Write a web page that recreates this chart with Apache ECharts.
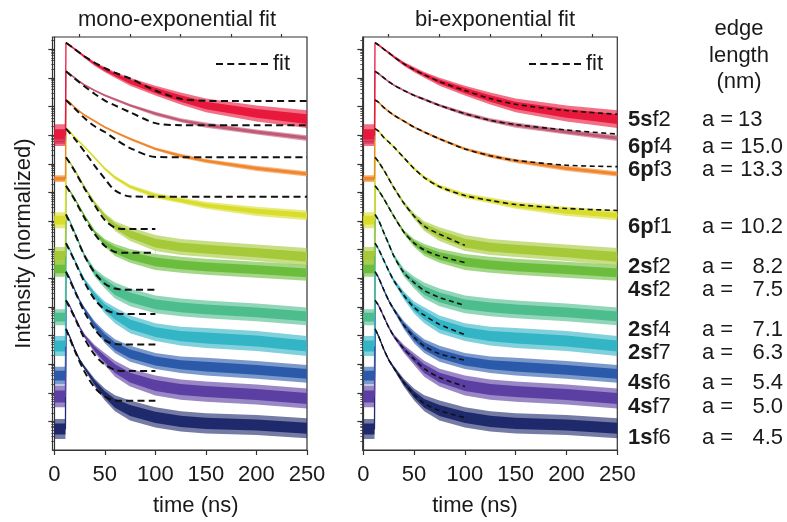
<!DOCTYPE html>
<html><head><meta charset="utf-8">
<script src="https://cdn.jsdelivr.net/npm/echarts@6/dist/echarts.min.js"></script>
<style>html,body{margin:0;padding:0;background:#fff}#c{width:787px;height:522px}</style>
</head><body><div id="c"></div>
<script>
// ---------------- DATA ----------------
// time grid (ns) of the measured decay traces
const T = [0, 11, 11.5, 15, 20, 25, 30, 40, 50, 60, 75, 100, 125, 150, 200, 250];
// trace centres, log10(intensity) incl. decade offsets; and half spread (noise) in decades
const c5sf2 = [11.00, 11.00, 14.23, 14.15, 14.01, 13.88, 13.74, 13.49, 13.29, 13.11, 12.87, 12.56, 12.28, 12.04, 11.76, 11.56];
const w5sf2 = [0.38, 0.38, 0.035, 0.035, 0.035, 0.04, 0.05, 0.07, 0.09, 0.10, 0.14, 0.17, 0.21, 0.24, 0.28, 0.31];
const c6pf4 = [10.83, 10.83, 13.23, 13.15, 13.01, 12.87, 12.75, 12.56, 12.39, 12.25, 12.04, 11.75, 11.52, 11.35, 11.11, 10.90];
const w6pf4 = [0.14, 0.14, 0.035, 0.035, 0.035, 0.035, 0.035, 0.035, 0.04, 0.045, 0.05, 0.07, 0.07, 0.09, 0.09, 0.10];
const c6pf3 = [9.48, 9.48, 12.23, 12.15, 11.97, 11.83, 11.70, 11.49, 11.28, 11.11, 10.87, 10.52, 10.28, 10.10, 9.84, 9.65];
const w6pf3 = [0.12, 0.12, 0.035, 0.035, 0.035, 0.035, 0.035, 0.035, 0.035, 0.04, 0.045, 0.05, 0.07, 0.07, 0.09, 0.09];
const c6pf1 = [8.03, 8.03, 11.23, 11.14, 10.93, 10.76, 10.59, 10.21, 9.83, 9.52, 9.20, 8.89, 8.72, 8.55, 8.34, 8.20];
const w6pf1 = [0.28, 0.28, 0.035, 0.035, 0.035, 0.035, 0.035, 0.04, 0.05, 0.06, 0.07, 0.09, 0.10, 0.12, 0.16, 0.17];
const c2sf2 = [6.78, 6.78, 10.23, 10.07, 9.79, 9.48, 9.17, 8.62, 8.17, 7.82, 7.54, 7.23, 7.09, 7.02, 6.89, 6.75];
const w2sf2 = [0.31, 0.31, 0.035, 0.035, 0.035, 0.04, 0.05, 0.07, 0.10, 0.17, 0.24, 0.28, 0.28, 0.28, 0.29, 0.31];
const c4sf2 = [6.33, 6.33, 9.23, 9.07, 8.79, 8.48, 8.17, 7.61, 7.23, 6.99, 6.78, 6.57, 6.47, 6.40, 6.30, 6.19];
const w4sf2 = [0.28, 0.28, 0.035, 0.035, 0.035, 0.04, 0.05, 0.07, 0.14, 0.21, 0.24, 0.28, 0.28, 0.28, 0.28, 0.28];
const c2sf4 = [4.64, 4.64, 8.23, 8.03, 7.61, 7.20, 6.78, 6.19, 5.85, 5.57, 5.33, 5.09, 4.98, 4.91, 4.81, 4.67];
const w2sf4 = [0.28, 0.28, 0.035, 0.035, 0.035, 0.05, 0.07, 0.14, 0.21, 0.28, 0.31, 0.31, 0.31, 0.31, 0.31, 0.31];
const c2sf7 = [3.63, 3.63, 7.23, 7.02, 6.64, 6.26, 5.92, 5.40, 4.98, 4.71, 4.39, 4.12, 3.98, 3.91, 3.81, 3.63];
const w2sf7 = [0.35, 0.35, 0.035, 0.035, 0.035, 0.05, 0.07, 0.14, 0.21, 0.28, 0.31, 0.31, 0.33, 0.35, 0.35, 0.35];
const c4sf6 = [2.60, 2.60, 6.23, 6.02, 5.61, 5.22, 4.91, 4.36, 3.94, 3.63, 3.36, 3.11, 2.98, 2.91, 2.80, 2.66];
const w4sf6 = [0.31, 0.31, 0.035, 0.035, 0.035, 0.05, 0.07, 0.14, 0.21, 0.24, 0.28, 0.28, 0.29, 0.31, 0.31, 0.31];
const c4sf7 = [1.87, 1.87, 5.23, 5.05, 4.67, 4.29, 3.98, 3.53, 3.18, 2.84, 2.53, 2.25, 2.11, 2.04, 1.94, 1.80];
const w4sf7 = [0.38, 0.38, 0.035, 0.035, 0.035, 0.05, 0.07, 0.14, 0.21, 0.28, 0.31, 0.35, 0.35, 0.35, 0.35, 0.35];
const c1sf6 = [0.73, 0.73, 4.23, 3.98, 3.53, 3.15, 2.87, 2.35, 1.94, 1.63, 1.38, 1.14, 1.00, 0.93, 0.87, 0.76];
const w1sf6 = [0.35, 0.35, 0.035, 0.035, 0.035, 0.05, 0.07, 0.14, 0.21, 0.28, 0.35, 0.35, 0.35, 0.35, 0.35, 0.35];

// mono-exponential fits (left panel)
const TmonoLong = [11.5, 20, 30, 40, 50, 60, 75, 100, 125, 150, 175, 200, 250];
const TmonoShort = [11.5, 20, 30, 40, 50, 60, 70, 100];
const m5sf2 = [14.23, 14.01, 13.75, 13.53, 13.34, 13.18, 12.98, 12.56, 12.27, 12.20, 12.19, 12.19, 12.19];
const m6pf4 = [13.23, 12.98, 12.70, 12.44, 12.21, 12.04, 11.80, 11.42, 11.35, 11.35, 11.35, 11.35, 11.35];
const m6pf3 = [12.23, 11.94, 11.59, 11.31, 11.11, 10.87, 10.55, 10.24, 10.23, 10.23, 10.23, 10.23, 10.23];
const m6pf1 = [11.23, 10.88, 10.42, 9.93, 9.48, 9.07, 8.86, 8.85, 8.85, 8.85, 8.85, 8.85, 8.85];
const m2sf2 = [10.23, 9.76, 9.13, 8.55, 8.03, 7.77, 7.72, 7.72];
const m4sf2 = [9.23, 8.75, 8.10, 7.54, 7.13, 6.92, 6.89, 6.89];
const m2sf4 = [8.23, 7.58, 6.78, 6.19, 5.81, 5.64, 5.60, 5.60];
const m2sf7 = [7.23, 6.61, 5.85, 5.26, 4.91, 4.78, 4.75, 4.75];
const m4sf6 = [6.23, 5.57, 4.81, 4.22, 3.84, 3.70, 3.69, 3.69];
const m4sf7 = [5.23, 4.64, 3.88, 3.32, 2.98, 2.80, 2.76, 2.76];
const m1sf6 = [4.23, 3.49, 2.73, 2.18, 1.87, 1.73, 1.72, 1.72];

// bi-exponential fits (right panel)
const TbiLong = [11.5, 15, 20, 25, 30, 40, 50, 60, 75, 100, 125, 150, 200, 250];
const TbiShort = [11.5, 15, 20, 25, 30, 40, 50, 60, 75, 100];
const b5sf2 = [14.23, 14.15, 14.01, 13.88, 13.74, 13.49, 13.29, 13.11, 12.87, 12.56, 12.28, 12.08, 11.86, 11.73];
const b6pf4 = [13.23, 13.15, 13.01, 12.87, 12.75, 12.56, 12.39, 12.25, 12.04, 11.75, 11.52, 11.37, 11.18, 11.04];
const b6pf3 = [12.23, 12.15, 11.97, 11.83, 11.70, 11.49, 11.28, 11.11, 10.87, 10.52, 10.28, 10.12, 9.95, 9.90];
const b6pf1 = [11.23, 11.14, 10.93, 10.76, 10.59, 10.21, 9.83, 9.52, 9.20, 8.89, 8.72, 8.58, 8.44, 8.37];
const b2sf2 = [10.23, 10.07, 9.79, 9.48, 9.17, 8.62, 8.17, 7.82, 7.54, 7.15];
const b4sf2 = [9.23, 9.07, 8.79, 8.48, 8.17, 7.61, 7.23, 6.99, 6.78, 6.55];
const b2sf4 = [8.23, 8.03, 7.61, 7.20, 6.78, 6.19, 5.85, 5.57, 5.33, 5.05];
const b2sf7 = [7.23, 7.02, 6.64, 6.26, 5.92, 5.40, 4.98, 4.71, 4.39, 4.03];
const b4sf6 = [6.23, 6.02, 5.61, 5.22, 4.91, 4.36, 3.94, 3.63, 3.36, 3.14];
const b4sf7 = [5.23, 5.05, 4.67, 4.29, 3.98, 3.53, 3.18, 2.84, 2.53, 2.22];
const b1sf6 = [4.23, 3.98, 3.53, 3.15, 2.87, 2.35, 1.94, 1.63, 1.38, 1.13];

const sampleNames = ['5sf2', '6pf4', '6pf3', '6pf1', '2sf2', '4sf2', '2sf4', '2sf7', '4sf6', '4sf7', '1sf6'];
const edgeLengths = ['13', '15.0', '13.3', '10.2', '8.2', '7.5', '7.1', '6.3', '5.4', '5.0', '4.5'];
const xTickLabels = [0, 50, 100, 150, 200, 250];
const xTickMinor = [25, 75, 125, 175, 225];

// ---------------- BUILD ----------------
const centres = [c5sf2, c6pf4, c6pf3, c6pf1, c2sf2, c4sf2, c2sf4, c2sf7, c4sf6, c4sf7, c1sf6];
const spreads = [w5sf2, w6pf4, w6pf3, w6pf1, w2sf2, w4sf2, w2sf4, w2sf7, w4sf6, w4sf7, w1sf6];
const monos = [m5sf2, m6pf4, m6pf3, m6pf1, m2sf2, m4sf2, m2sf4, m2sf7, m4sf6, m4sf7, m1sf6];
const bis = [b5sf2, b6pf4, b6pf3, b6pf1, b2sf2, b4sf2, b2sf4, b2sf7, b4sf6, b4sf7, b1sf6];
const colors = ['#e8193c', '#c25a75', '#f0862b', '#d9dd2b', '#a6c93a', '#6cbd3d', '#4dbd8e', '#33b5c6', '#2b5aab', '#5b3fa2', '#1f2a6c'];

const FONT = "'Liberation Sans', Arial, sans-serif";
const FS = 22;
const INK = '#1a1a1a';
const AX = '#333';
const pow = v => Math.pow(10, v);
const yMax = pow(14.43);
const majorY = []; for (let n = 1; n <= 14; n++) majorY.push(pow(n));
const minorY = [];
for (let n = 0; n <= 14; n++) for (let k = 2; k <= 9; k++) { const v = k * pow(n); if (v < yMax) minorY.push(v); }

const gridDefs = [
  { left: 52.5, top: 37, width: 254.5, height: 417 },
  { left: 362.7, top: 37, width: 254.6, height: 417 }
];
const xMins = [-1.8, -0.6];

const grid = gridDefs.map(g => Object.assign({ show: true, borderColor: AX, borderWidth: 1.2, backgroundColor: 'transparent' }, g));
const xAxis = [], yAxis = [];
for (let g = 0; g < 2; g++) {
  xAxis.push({
    gridIndex: g, type: 'value', min: xMins[g], max: 250,
    axisLine: { show: true, lineStyle: { color: AX, width: 1.2 } },
    axisTick: { show: true, length: 5, customValues: xTickLabels, lineStyle: { color: AX, width: 1.2 } },
    axisLabel: { show: true, customValues: xTickLabels, margin: 14, fontSize: FS, color: INK, fontFamily: FONT },
    splitLine: { show: false },
    name: 'time (ns)', nameLocation: 'middle', nameGap: 45,
    nameTextStyle: { fontSize: FS, color: INK, fontFamily: FONT, padding: g === 0 ? [0, 0, 0, 32] : [0, 30, 0, 0] }
  });
  xAxis.push({
    gridIndex: g, type: 'value', min: xMins[g], max: 250,
    axisLine: { show: false },
    axisTick: { show: true, length: 3, customValues: xTickMinor, lineStyle: { color: AX, width: 1.2 } },
    axisLabel: { show: false }, splitLine: { show: false }
  });
  yAxis.push({
    gridIndex: g, type: 'log', min: 1, max: yMax, position: 'left',
    axisLine: { show: true, lineStyle: { color: AX, width: 1.2 } },
    axisTick: { show: true, length: 6, customValues: majorY, lineStyle: { color: AX, width: 1.2 } },
    axisLabel: { show: false }, splitLine: { show: false },
    name: g === 0 ? 'Intensity (normalized)' : '', nameLocation: 'middle', nameGap: 18,
    nameTextStyle: { fontSize: FS, color: INK, fontFamily: FONT }
  });
  yAxis.push({
    gridIndex: g, type: 'log', min: 1, max: yMax, position: 'left',
    axisLine: { show: false },
    axisTick: { show: true, length: 3, customValues: minorY, lineStyle: { color: AX, width: 0.8 } },
    axisLabel: { show: false }, splitLine: { show: false }
  });
}

// noise band: a soft outer envelope plus a denser core
function band(i, g) {
  const env = f => {
    const up = T.map((t, j) => [t, pow(centres[i][j] + f * spreads[i][j])]);
    const lo = T.map((t, j) => [t, pow(centres[i][j] - f * spreads[i][j])]).reverse();
    return up.concat(lo);
  };
  const outer = env(1), inner = env(0.55);
  return {
    type: 'custom', name: sampleNames[i], xAxisIndex: g * 2, yAxisIndex: g * 2, silent: true, z: 2,
    data: outer, encode: { x: 0, y: 1 },
    renderItem: (params, api) => {
      if (params.dataIndex !== 0) return null;
      return {
        type: 'group', children: [
          { type: 'polygon', shape: { points: outer.map(p => api.coord(p)) }, style: { fill: colors[i], opacity: 0.62 } },
          { type: 'polygon', shape: { points: inner.map(p => api.coord(p)) }, style: { fill: colors[i], opacity: 1 } }
        ]
      };
    }
  };
}
function centreLine(i, g) {
  return {
    type: 'line', name: sampleNames[i], xAxisIndex: g * 2, yAxisIndex: g * 2, z: 3, silent: true,
    data: T.map((t, j) => [t, pow(centres[i][j])]), symbol: 'none',
    lineStyle: { color: colors[i], width: 1.3 }
  };
}
function fit(ts, vals, g, dash, width) {
  return {
    type: 'line', name: 'fit', xAxisIndex: g * 2, yAxisIndex: g * 2, z: 5,
    data: ts.map((t, j) => [t, pow(vals[j])]),
    symbol: 'none', smooth: 0.3, silent: true,
    lineStyle: { color: '#111', width: width, type: dash }
  };
}

const series = [];
for (let g = 0; g < 2; g++) for (let i = sampleNames.length - 1; i >= 0; i--) { series.push(band(i, g)); series.push(centreLine(i, g)); }
for (let i = 0; i < sampleNames.length; i++) {
  series.push(fit(i < 4 ? TmonoLong : TmonoShort, monos[i], 0, [7, 4.25], 2));
}
for (let i = 0; i < sampleNames.length; i++) {
  series.push(fit(i < 4 ? TbiLong : TbiShort, bis[i], 1, [5, 3.5], 1.6));
}

// text
const labelY = [120, 147, 170, 227, 267, 290, 330, 353, 383, 407, 438];
const txt = (s, x, y, align) => ({ type: 'text', x: x, y: y, style: { text: s, font: FS + 'px ' + FONT, fill: INK, align: align, verticalAlign: 'middle', textAlign: align, textVerticalAlign: 'middle' } });
const graphic = [
  txt('mono-exponential fit', 177, 20, 'center'),
  txt('bi-exponential fit', 495, 20, 'center')
];
['edge', 'length', '(nm)'].forEach((s, k) => graphic.push(txt(s, 739, 29 + k * 26.5, 'center')));
sampleNames.forEach((nm, i) => {
  const y = labelY[i];
  graphic.push({ type: 'text', x: 628, y: y, style: { text: '{b|' + nm.slice(0, 2) + '}{n|' + nm.slice(2) + '}', rich: { b: { fontWeight: 'bold', fontSize: FS, fontFamily: FONT, fill: INK, color: INK }, n: { fontSize: FS, fontFamily: FONT, fill: INK, color: INK } }, align: 'left', verticalAlign: 'middle', textAlign: 'left', textVerticalAlign: 'middle' } });
  graphic.push(txt('a =', 702, y, 'left'));
  graphic.push(i === 0 ? txt(edgeLengths[i], 738, y, 'left') : txt(edgeLengths[i], 783, y, 'right'));
});

const dashIcon = 'path://M0,0h7v2h-7z M11.25,0h7v2h-7z M22.5,0h7v2h-7z M33.75,0h7v2h-7z M45,0h7v2h-7z';
const legendCommon = { data: [{ name: 'fit', icon: dashIcon }], itemWidth: 52, itemHeight: 2, selectedMode: false, textStyle: { fontSize: FS, color: INK, fontFamily: FONT }, itemGap: 5, itemStyle: { color: '#111' } };
const option = {
  animation: false,
  backgroundColor: '#fff',
  grid, xAxis, yAxis, series, graphic,
  legend: [
    Object.assign({ left: 211, top: 48 }, legendCommon),
    Object.assign({ left: 524, top: 48 }, legendCommon)
  ]
};
const chart = echarts.init(document.getElementById('c'), null, { renderer: 'canvas' });
chart.setOption(option);
</script>
</body></html>
